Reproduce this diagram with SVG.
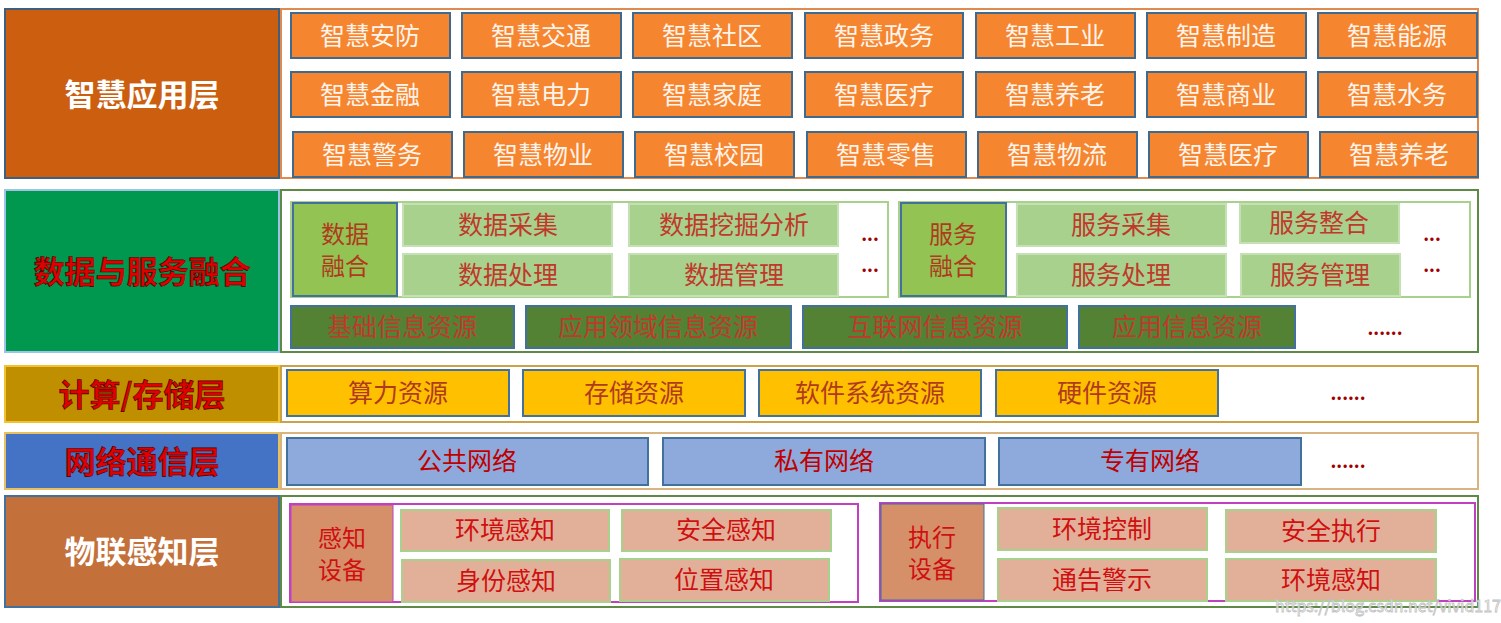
<svg xmlns="http://www.w3.org/2000/svg" width="1501" height="623" viewBox="0 0 1501 623">
<style>
text{font-family:"Noto Sans CJK SC","Noto Sans",sans-serif;text-anchor:middle;dominant-baseline:central}
.lab{font-size:31px;font-weight:bold}
.cell{font-size:25px}
.two{font-size:24px}
.app rect{fill:#F5852E;stroke:#3F6A8E;stroke-width:2}
.app text{fill:#FFF4EC}
.dc rect{fill:#A9D18E;stroke:#C5E0B4;stroke-width:2}
.dc text{fill:#C0392B}
.res rect{fill:#548235;stroke:#41719C;stroke-width:2}
.res text{fill:#C0392B}
.cmp rect{fill:#FFC000;stroke:#41719C;stroke-width:2}
.cmp text{fill:#B03A1E}
.net rect{fill:#8EA9DB;stroke:#41719C;stroke-width:2}
.net text{fill:#C00000}
.sen rect{fill:#E2B099;stroke:#A9D18E;stroke-width:2}
.sen text{fill:#D01010}
.dots{font-size:18px;fill:#A00000;font-weight:bold}
</style>
<rect width="1501" height="623" fill="#FFFFFF"/>

<!-- Layer 1 -->
<g id="layer-app">
<rect x="281" y="9" width="1197" height="169" fill="#FFFFFF" stroke="#E08A50" stroke-width="2"/>
<rect x="5" y="9" width="274" height="169" fill="#CC5E10" stroke="#3F5F7F" stroke-width="2"/>
<text class="lab" x="142" y="92" fill="#FFFFFF">智慧应用层</text>
<g class="app">
<rect x="291" y="13" width="159" height="45"/><text class="cell" x="370" y="34">智慧安防</text>
<rect x="462" y="13" width="159" height="45"/><text class="cell" x="541" y="34">智慧交通</text>
<rect x="633" y="13" width="159" height="45"/><text class="cell" x="712" y="34">智慧社区</text>
<rect x="805" y="13" width="158" height="45"/><text class="cell" x="884" y="34">智慧政务</text>
<rect x="976" y="13" width="159" height="45"/><text class="cell" x="1055" y="34">智慧工业</text>
<rect x="1147" y="13" width="159" height="45"/><text class="cell" x="1226" y="34">智慧制造</text>
<rect x="1318" y="13" width="159" height="45"/><text class="cell" x="1397" y="34">智慧能源</text>
<rect x="291" y="72" width="159" height="45"/><text class="cell" x="370" y="93">智慧金融</text>
<rect x="462" y="72" width="159" height="45"/><text class="cell" x="541" y="93">智慧电力</text>
<rect x="633" y="72" width="159" height="45"/><text class="cell" x="712" y="93">智慧家庭</text>
<rect x="805" y="72" width="158" height="45"/><text class="cell" x="884" y="93">智慧医疗</text>
<rect x="976" y="72" width="159" height="45"/><text class="cell" x="1055" y="93">智慧养老</text>
<rect x="1147" y="72" width="159" height="45"/><text class="cell" x="1226" y="93">智慧商业</text>
<rect x="1318" y="72" width="159" height="45"/><text class="cell" x="1397" y="93">智慧水务</text>
<rect x="293" y="132" width="159" height="45"/><text class="cell" x="372" y="153">智慧警务</text>
<rect x="464" y="132" width="159" height="45"/><text class="cell" x="543" y="153">智慧物业</text>
<rect x="635" y="132" width="159" height="45"/><text class="cell" x="714" y="153">智慧校园</text>
<rect x="807" y="132" width="159" height="45"/><text class="cell" x="886" y="153">智慧零售</text>
<rect x="978" y="132" width="159" height="45"/><text class="cell" x="1057" y="153">智慧物流</text>
<rect x="1149" y="132" width="159" height="45"/><text class="cell" x="1228" y="153">智慧医疗</text>
<rect x="1320" y="132" width="158" height="45"/><text class="cell" x="1399" y="153">智慧养老</text>
</g>
</g>

<!-- Layer 2 -->
<g id="layer-data">
<rect x="281" y="190" width="1197" height="162" fill="#FFFFFF" stroke="#5E8A45" stroke-width="2"/>
<rect x="5" y="190" width="274" height="162" fill="#00984F" stroke="#9DC3E6" stroke-width="2"/>
<text class="lab" x="142" y="269" fill="#E00000" stroke="#400000" stroke-width="0.6">数据与服务融合</text>
<g id="data-fusion">
<rect x="291" y="202" width="597" height="95" fill="none" stroke="#A9D18E" stroke-width="2"/>
<rect x="293" y="203" width="104" height="93" fill="#92C353" stroke="#41719C" stroke-width="2"/>
<text class="two" x="345" y="232" fill="#B03A1E">数据</text>
<text class="two" x="345" y="264" fill="#B03A1E">融合</text>
<g class="dc">
<rect x="403" y="204" width="209" height="42"/><text class="cell" x="508" y="223">数据采集</text>
<rect x="403" y="254" width="209" height="42"/><text class="cell" x="508" y="273">数据处理</text>
<rect x="629" y="204" width="209" height="42"/><text class="cell" x="734" y="223">数据挖掘分析</text>
<rect x="629" y="254" width="209" height="42"/><text class="cell" x="734" y="273">数据管理</text>
</g>
<text class="dots" x="870" y="233">...</text>
<text class="dots" x="870" y="264">...</text>
</g>
<g id="service-fusion">
<rect x="899" y="202" width="571" height="95" fill="none" stroke="#A9D18E" stroke-width="2"/>
<rect x="901" y="203" width="105" height="93" fill="#92C353" stroke="#41719C" stroke-width="2"/>
<text class="two" x="953" y="232" fill="#B03A1E">服务</text>
<text class="two" x="953" y="264" fill="#B03A1E">融合</text>
<g class="dc">
<rect x="1017" y="204" width="209" height="42"/><text class="cell" x="1121" y="223">服务采集</text>
<rect x="1017" y="254" width="209" height="42"/><text class="cell" x="1121" y="273">服务处理</text>
<rect x="1240" y="204" width="159" height="39"/><text class="cell" x="1319" y="221">服务整合</text>
<rect x="1241" y="254" width="159" height="42"/><text class="cell" x="1320" y="273">服务管理</text>
</g>
<text class="dots" x="1432" y="233">...</text>
<text class="dots" x="1432" y="264">...</text>
</g>
<g class="res">
<rect x="291" y="306" width="223" height="42"/><text class="cell" x="402" y="325">基础信息资源</text>
<rect x="526" y="306" width="265" height="42"/><text class="cell" x="658" y="325">应用领域信息资源</text>
<rect x="803" y="306" width="264" height="42"/><text class="cell" x="935" y="325">互联网信息资源</text>
<rect x="1079" y="306" width="216" height="42"/><text class="cell" x="1187" y="325">应用信息资源</text>
</g>
<text class="dots" x="1385" y="327">......</text>
</g>

<!-- Layer 3 -->
<g id="layer-compute">
<rect x="281" y="366" width="1197" height="56" fill="#FFFFFF" stroke="#C9A24A" stroke-width="2"/>
<rect x="5" y="366" width="274" height="56" fill="#BF8F00" stroke="#F2C230" stroke-width="2"/>
<text class="lab" x="142" y="392" fill="#E00000" stroke="#400000" stroke-width="0.6">计算/存储层</text>
<g class="cmp">
<rect x="287" y="370" width="222" height="46"/><text class="cell" x="398" y="391">算力资源</text>
<rect x="523" y="370" width="222" height="46"/><text class="cell" x="634" y="391">存储资源</text>
<rect x="759" y="370" width="222" height="46"/><text class="cell" x="870" y="391">软件系统资源</text>
<rect x="996" y="370" width="222" height="46"/><text class="cell" x="1107" y="391">硬件资源</text>
</g>
<text class="dots" x="1348" y="392">......</text>
</g>

<!-- Layer 4 -->
<g id="layer-network">
<rect x="281" y="433" width="1197" height="56" fill="#FFFFFF" stroke="#D9B480" stroke-width="2"/>
<rect x="5" y="433" width="274" height="56" fill="#4472C4" stroke="#E8C060" stroke-width="2"/>
<text class="lab" x="142" y="459" fill="#E00000" stroke="#400000" stroke-width="0.6">网络通信层</text>
<g class="net">
<rect x="287" y="438" width="361" height="47"/><text class="cell" x="467" y="459">公共网络</text>
<rect x="663" y="438" width="322" height="47"/><text class="cell" x="824" y="459">私有网络</text>
<rect x="999" y="438" width="302" height="47"/><text class="cell" x="1150" y="459">专有网络</text>
</g>
<text class="dots" x="1348" y="460">......</text>
</g>

<!-- Layer 5 -->
<g id="layer-iot">
<rect x="281" y="496" width="1197" height="111" fill="#FFFFFF" stroke="#5E8A45" stroke-width="2"/>
<rect x="5" y="496" width="274" height="111" fill="#C3703B" stroke="#41719C" stroke-width="2"/>
<text class="lab" x="142" y="549" fill="#FFFFFF">物联感知层</text>
<g id="sensing-devices">
<rect x="290" y="504" width="568" height="98" fill="none" stroke="#C040C0" stroke-width="2"/>
<rect x="291" y="505" width="102" height="97" fill="#D5906A" stroke="#C040C0" stroke-width="1"/>
<text class="two" x="342" y="536" fill="#D01010">感知</text>
<text class="two" x="342" y="568" fill="#D01010">设备</text>
<g class="sen">
<rect x="401" y="510" width="208" height="41"/><text class="cell" x="505" y="528">环境感知</text>
<rect x="402" y="560" width="208" height="42"/><text class="cell" x="506" y="579">身份感知</text>
<rect x="622" y="510" width="209" height="41"/><text class="cell" x="726" y="528">安全感知</text>
<rect x="620" y="559" width="209" height="42"/><text class="cell" x="724" y="578">位置感知</text>
</g>
</g>
<g id="execution-devices">
<rect x="880" y="503" width="595" height="98" fill="none" stroke="#C040C0" stroke-width="2"/>
<rect x="881" y="504" width="103" height="96" fill="#D5906A" stroke="#41719C" stroke-width="1"/>
<text class="two" x="932" y="535" fill="#D01010">执行</text>
<text class="two" x="932" y="567" fill="#D01010">设备</text>
<g class="sen">
<rect x="998" y="508" width="209" height="42"/><text class="cell" x="1102" y="527">环境控制</text>
<rect x="998" y="559" width="209" height="42"/><text class="cell" x="1102" y="578">通告警示</text>
<rect x="1226" y="510" width="210" height="42"/><text class="cell" x="1331" y="529">安全执行</text>
<rect x="1226" y="559" width="210" height="42"/><text class="cell" x="1331" y="578">环境感知</text>
</g>
</g>
</g>

<text x="1388" y="605" font-family="Liberation Sans, sans-serif" font-size="16" fill="#FFFFFF" stroke="#BBBBBB" stroke-width="0.8" opacity="0.9">https://blog.csdn.net/vivid117</text>
</svg>
